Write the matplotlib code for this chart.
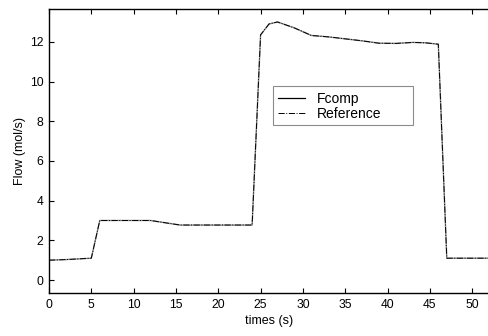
import matplotlib.pyplot as plt
from matplotlib.patches import Rectangle

plt.rcParams["font.family"] = ["Liberation Sans", "DejaVu Sans"]

# composition flow vs. reference trajectory
time_s = [0, 2, 5, 6, 9, 12, 13.5, 15.5, 20, 24, 25, 26, 27, 29, 31, 33, 35, 37, 39, 41, 43, 44.5, 46, 47, 52]
fcomp = [1.0, 1.03, 1.1, 3.0, 3.0, 3.0, 2.9, 2.77, 2.77, 2.77, 12.35, 12.9, 13.0, 12.7, 12.32, 12.25, 12.15, 12.05, 11.93, 11.92, 11.97, 11.95, 11.88, 1.1, 1.1]
reference = [1.0, 1.03, 1.1, 3.0, 3.0, 3.0, 2.9, 2.77, 2.77, 2.77, 12.35, 12.9, 13.0, 12.7, 12.32, 12.25, 12.15, 12.05, 11.93, 11.92, 11.97, 11.95, 11.88, 1.1, 1.1]

xticks = list(range(0, 55, 5))
yticks = list(range(0, 13, 2))

fig = plt.figure(figsize=(4.89, 3.36), dpi=100)
ax = fig.add_axes([0.1002, 0.127, 0.9, 0.846])

ax.plot(time_s, fcomp, color="0.55", lw=1.0, label="Fcomp")
ax.plot(time_s, reference, color="black", lw=0.7, ls="-.", label="Reference")

ax.set_xlim(0, 52)
ax.set_ylim(-0.67, 13.65)
ax.set_xticks(xticks)
ax.set_yticks(yticks)
ax.tick_params(direction="in", length=3.5, width=0.8, labelsize=8.7,
               top=True, right=False, pad=4)
for side in ("left", "bottom", "top"):
    ax.spines[side].set_linewidth(1.0)
ax.spines["right"].set_visible(False)

ax.set_xlabel("times (s)", fontsize=9, labelpad=3)
ax.set_ylabel("Flow (mol/s)", fontsize=9, labelpad=3)

# legend box with extra room on the right, drawn separately from the entries
ax.add_patch(Rectangle((0.508, 0.592), 0.318, 0.137, transform=ax.transAxes,
                       facecolor="white", edgecolor="0.55", lw=0.8, zorder=4))
leg = ax.legend(loc="upper left", bbox_to_anchor=(0.508, 0.729), borderaxespad=0,
                fontsize=10, frameon=False, borderpad=0.4,
                handlelength=1.9, handletextpad=0.9, labelspacing=0.12)
leg.set_zorder(5)
leg.legend_handles[0].set_color("black")
leg.legend_handles[0].set_linewidth(0.9)

fig.savefig("out.png", dpi=100)
